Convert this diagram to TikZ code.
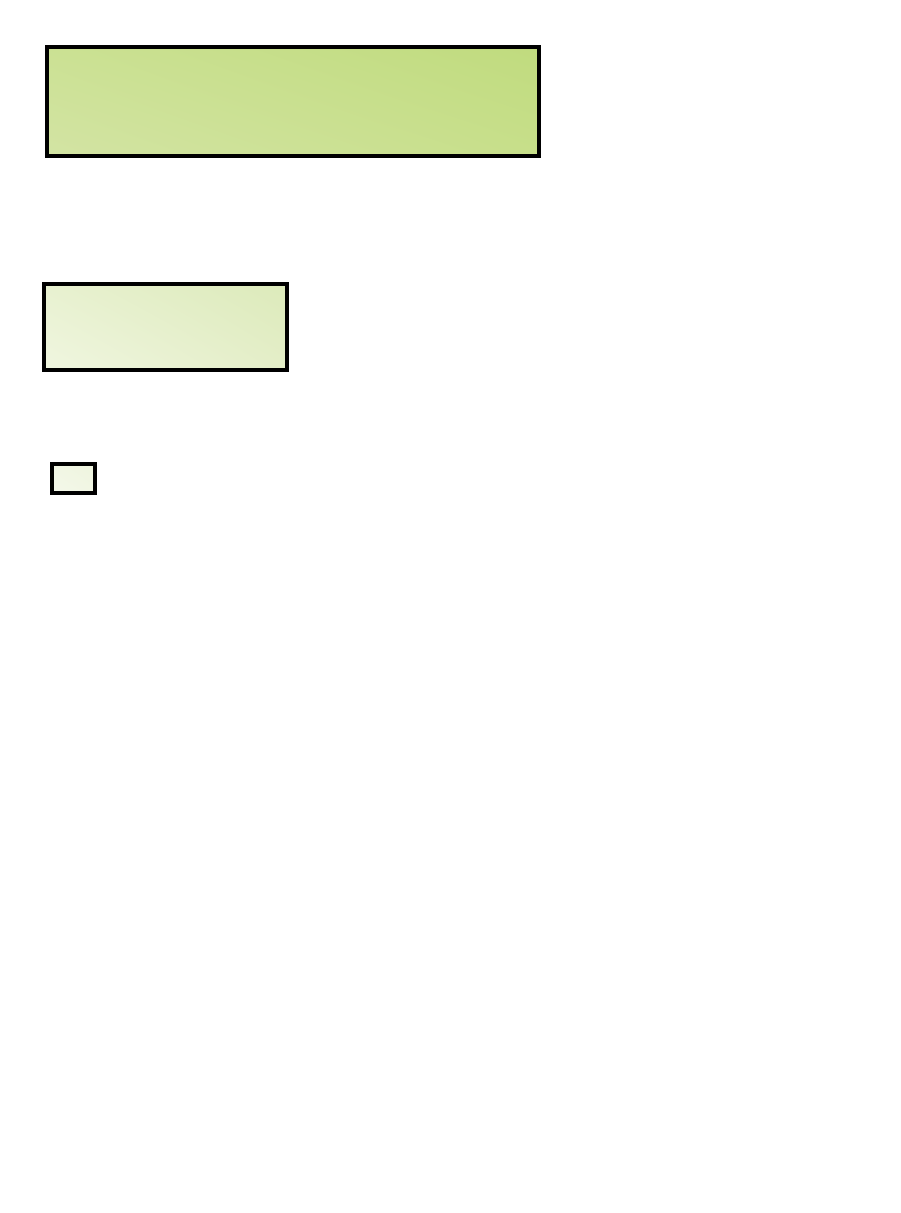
\documentclass[tikz,border=0pt]{standalone}
\usetikzlibrary{shadings}
\definecolor{bLL}{RGB}{211,228,164}
\definecolor{bUL}{RGB}{203,225,147}
\definecolor{bLR}{RGB}{199,223,138}
\definecolor{bUR}{RGB}{192,219,126}
\definecolor{mLL}{RGB}{240,246,224}
\definecolor{mUL}{RGB}{232,241,208}
\definecolor{mLR}{RGB}{228,238,200}
\definecolor{mUR}{RGB}{220,234,186}
\definecolor{sLL}{RGB}{244,248,234}
\definecolor{sMM}{RGB}{241,246,228}
\definecolor{sUR}{RGB}{238,244,222}
\begin{document}
\begin{tikzpicture}[x=1pt,y=-1pt,
  boxstyle/.style={draw=black,line width=4pt,rectangle,inner sep=0pt,outer sep=0pt,anchor=north west}]
\useasboundingbox[fill=white] (0,0) rectangle (900,1213);
\node[boxstyle,minimum width=492pt,minimum height=109pt,
  lower left=bLL,upper left=bUL,lower right=bLR,upper right=bUR] (big) at (47,47) {};
\node[boxstyle,minimum width=243pt,minimum height=86pt,
  lower left=mLL,upper left=mUL,lower right=mLR,upper right=mUR] (mid) at (44,284) {};
\node[boxstyle,minimum width=43pt,minimum height=29pt,
  lower left=sLL,upper left=sMM,lower right=sMM,upper right=sUR] (small) at (52,464) {};
\end{tikzpicture}
\end{document}
